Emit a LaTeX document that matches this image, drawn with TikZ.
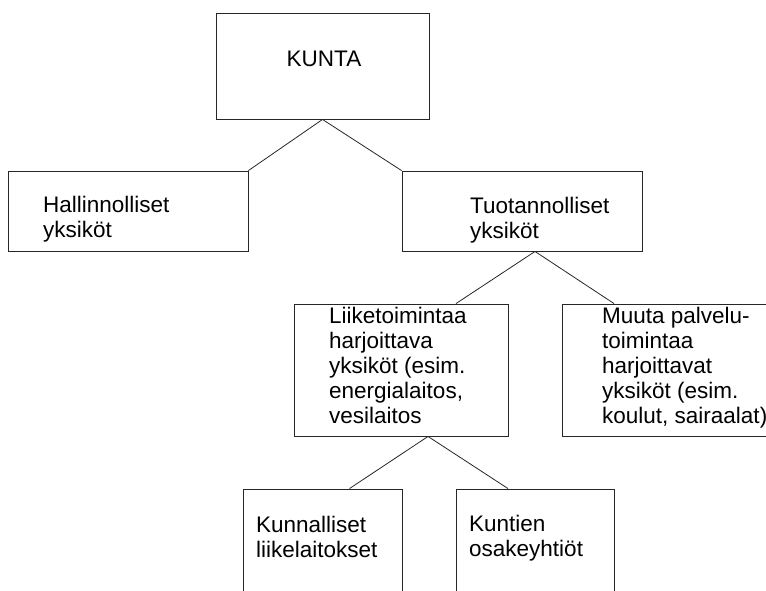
\documentclass[tikz,border=0pt]{standalone}
\usepackage{fontspec}
\setmainfont{Liberation Sans}
\usetikzlibrary{positioning}
\tikzset{
  unitbox/.style={
    rectangle, draw=black!85, line width=0.9pt,
    inner sep=0pt
  },
  unittext/.style={
    anchor=base west, inner sep=0pt, align=left,
    font=\fontsize{22.5}{25}\selectfont
  },
  link/.style={draw=black!85, line width=0.8pt},
}

\begin{document}
\begin{tikzpicture}[x=1pt, y=-1pt]

  \useasboundingbox (0,0) rectangle (766,590);
  \clip (0,0) rectangle (766,590);

  % ── Row positions ────────────────────────────────────────────────────────────
  \def\rowA{66}     % KUNTA
  \def\rowB{211}    % Hallinnolliset / Tuotannolliset
  \def\rowC{370}    % Liiketoimintaa / Muuta
  \def\rowD{559}    % Kunnalliset / Kuntien

  % ── Boxes ────────────────────────────────────────────────────────────────────
  \node[unitbox, minimum width=213pt, minimum height=106pt] (kunta) at (322.5,\rowA) {};
  \node[unitbox, minimum width=240pt, minimum height=80pt]  (hall)  at (128,\rowB) {};
  \node[unitbox, minimum width=240pt, minimum height=80pt]  (tuot)  at (522,\rowB) {};
  \node[unitbox, minimum width=214pt, minimum height=132pt] (liike) at (401,\rowC) {};
  \node[unitbox, minimum width=214pt, minimum height=132pt] (muuta) at (669,\rowC) {};
  \node[unitbox, minimum width=159pt, minimum height=140pt] (kunn)  at (322.5,\rowD) {};
  \node[unitbox, minimum width=158pt, minimum height=140pt] (kunt)  at (535,\rowD) {};

  % ── Texts (base = last line) ─────────────────────────────────────────────────
  \node[unittext, anchor=base] (kuntaT) at (324,66) {KUNTA};
  \node[unittext] (hallT)  at (43,237)  {Hallinnolliset\\yksiköt};
  \node[unittext] (tuotT)  at (470,238) {Tuotannolliset\\yksiköt};
  \node[unittext] (liikeT) at (329,423)
    {Liiketoimintaa\\harjoittava\\yksiköt (esim.\\energialaitos,\\vesilaitos};
  \node[unittext] (muutaT) at (602,423)
    {Muuta palvelu-\\toimintaa\\harjoittavat\\yksiköt (esim.\\koulut, sairaalat)};
  \node[unittext] (kunnT)  at (256,557) {Kunnalliset\\liikelaitokset};
  \node[unittext] (kuntT)  at (469,556) {Kuntien\\osakeyhtiöt};

  % ── Branch points ────────────────────────────────────────────────────────────
  \coordinate (tuotB)  at ([xshift=13pt]tuot.south);
  \coordinate (liikeB) at ([xshift=27pt]liike.south);

  % ── Connectors ───────────────────────────────────────────────────────────────
  \draw[link] (kunta.south) -- (hall.north east);
  \draw[link] (kunta.south) -- (tuot.north west);
  \draw[link] (tuotB) -- ([xshift=55pt]liike.north);
  \draw[link] (tuotB) -- ([xshift=-55pt]muuta.north);
  \draw[link] (liikeB) -- ([xshift=27pt]kunn.north);
  \draw[link] (liikeB) -- ([xshift=-27pt]kunt.north);

\end{tikzpicture}
\end{document}
